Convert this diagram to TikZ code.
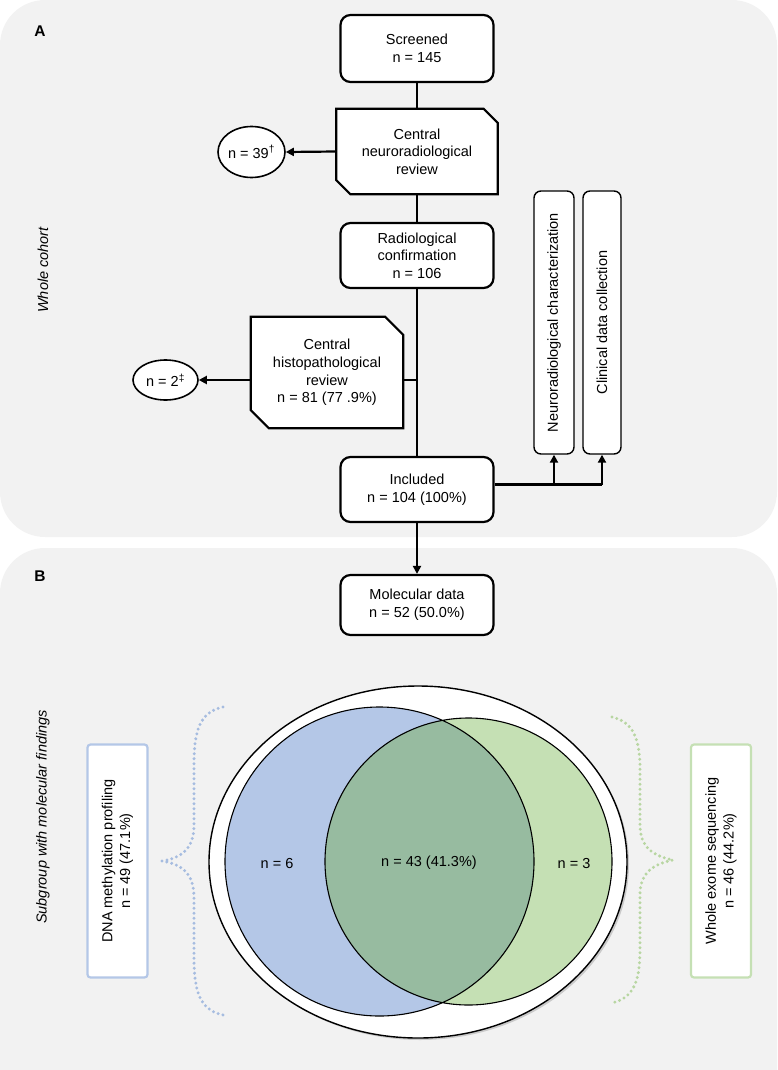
\documentclass[tikz,border=0pt]{standalone}
\usepackage{fontspec}
\setmainfont{Liberation Sans}
\usetikzlibrary{arrows.meta,backgrounds,shadows,shapes.geometric}
\definecolor{panelgray}{RGB}{242,242,242}
\definecolor{vennblue}{RGB}{180,199,231}
\definecolor{venngreen}{RGB}{197,224,180}
\definecolor{vennboth}{RGB}{151,187,160}
\definecolor{braceblue}{RGB}{166,188,224}
\definecolor{bracegreen}{RGB}{184,214,162}
\newcommand\bodysize{\fontsize{14.5}{17.6}\selectfont}
\tikzset{
  box/.style={draw,fill=white,line width=2.2pt,rounded corners=10pt,minimum width=153pt,inner sep=0pt,align=center},
  cutbox/.style={minimum width=#1,inner sep=0pt,align=center},
  cutline/.style={draw,fill=white,line width=2.2pt},
  oval/.style={draw,fill=white,ellipse,line width=1.6pt,inner sep=0pt},
  tallbox/.style={draw,fill=white,rotate=90,line width=1.4pt,rounded corners=7pt,minimum width=263pt,inner sep=0pt},
  sidebox/.style={draw=#1,fill=white,rotate=90,line width=2.2pt,rounded corners=3pt,minimum width=233pt,minimum height=60pt,inner sep=0pt,align=center},
  dotbrace/.style={#1,line width=3.3pt,line cap=round,dash pattern=on 0pt off 5pt},
  flow/.style={line width=2.2pt},
}
\begin{document}
\begin{tikzpicture}[x=1pt,y=-1pt,font=\bodysize,>={Triangle[length=8pt,width=8pt]}]
\useasboundingbox (0,0) rectangle (777,1070);
% panel A
\node[font=\fontsize{15.5}{18}\selectfont\bfseries] (labA) at (40,31) {A};
\node[rotate=90,font=\bodysize\itshape] (whole) at (43,270) {Whole cohort};
\node[box,minimum height=67pt] (screen) at (417,48.5) {Screened\\n = 145};
\node[cutbox=161pt,minimum height=85pt] (neuro) at (417,151.5) {Central\\neuroradiological\\review};
\node[oval,minimum width=67pt,minimum height=51pt] (e39) at (251.5,152) {n = 39\textsuperscript{†}};
\node[box,minimum height=65pt] (radio) at (417,255.5) {Radiological\\confirmation\\n = 106};
\node[cutbox=152pt,minimum height=111pt] (histo) at (327,372.5) {Central\\histopathological\\review\\n = 81 (77 .9\%)};
\node[oval,minimum width=65pt,minimum height=40pt] (e2) at (165.5,380) {n = 2\textsuperscript{‡}};
\node[box,minimum height=65pt] (incl) at (417,489.5) {Included\\n = 104 (100\%)};
\node[tallbox,minimum height=40pt] (neurchar) at (554,322.5) {Neuroradiological characterization};
\node[tallbox,minimum height=38pt] (clin) at (602,322.5) {Clinical data collection};
\coordinate (junc) at ([yshift=5pt]incl.east);
\draw[flow] (screen.south) -- (neuro.north);
\draw[flow] (neuro.south) -- (radio.north);
\draw[flow] (radio.south) -- (incl.north);
\draw[flow] (histo.east |- e2) -- (radio.south |- e2);
\draw[flow,->] (neuro.west) -- (e39.east);
\draw[flow,->] (histo.west |- e2) -- (e2.east);
\draw[flow] (junc) -- (clin.west |- junc);
\draw[flow,->] (neurchar.west |- junc) -- (neurchar.west);
\draw[flow,->] (clin.west |- junc) -- (clin.west);
% panel B
\node[font=\fontsize{15.5}{18}\selectfont\bfseries] (labB) at (40,576) {B};
\node[rotate=90,font=\bodysize\itshape] (subgr) at (43,817) {Subgroup with molecular findings};
\node[box,minimum height=60pt] (mol) at (417,605) {Molecular data\\n = 52 (50.0\%)};
\draw[flow,->] (incl.south) -- (mol.north);
\draw[fill=white,line width=1.4pt,drop shadow={shadow xshift=2pt,shadow yshift=-2pt,opacity=.35}] (418,862) ellipse [x radius=209,y radius=176];
\fill[vennblue] (379.5,861.5) circle [radius=154.5];
\fill[venngreen] (468.5,861.5) circle [radius=143.5];
\begin{scope}
  \clip (379.5,861.5) circle [radius=154.5];
  \fill[vennboth] (468.5,861.5) circle [radius=143.5];
\end{scope}
\draw[line width=1.1pt] (379.5,861.5) circle [radius=154.5] (468.5,861.5) circle [radius=143.5];
\node (n6) at (277,863) {n = 6};
\node (n43) at (429,863) {n = 43 (41.3\%)};
\node (n3) at (574,863) {n = 3};
\node[sidebox=vennblue] (dna) at (117.5,861) {DNA methylation profiling\\n = 49 (47.1\%)};
\node[sidebox=venngreen] (wes) at (721,861) {Whole exome sequencing\\n = 46 (44.2\%)};
\draw[dotbrace=braceblue] (223,707) .. controls (200,712) and (194,730) .. (194,765) -- (194,825)
  .. controls (194,850) and (180,858) .. (162,861) .. controls (180,864) and (194,872) .. (194,897)
  -- (194,957) .. controls (194,992) and (200,1010) .. (223,1015);
\draw[dotbrace=bracegreen] (612,717) .. controls (633,722) and (640,738) .. (640,770) -- (640,825)
  .. controls (640,848) and (654,856) .. (673,860) .. controls (654,864) and (640,872) .. (640,895)
  -- (640,950) .. controls (640,982) and (633,998) .. (612,1003);
% panels and cut boxes behind
\begin{scope}[on background layer]
  \fill[panelgray,rounded corners=45pt] (0,0) rectangle (777,537);
  \fill[panelgray,rounded corners=45pt] (0,548) rectangle (777,1130);
  \draw[cutline] (neuro.north west) -- ([xshift=-14pt]neuro.north east) -- ([yshift=-14pt]neuro.north east)
    -- (neuro.south east) -- ([xshift=14pt]neuro.south west) -- ([yshift=14pt]neuro.south west) -- cycle;
  \draw[cutline] (histo.north west) -- ([xshift=-18pt]histo.north east) -- ([yshift=-18pt]histo.north east)
    -- (histo.south east) -- ([xshift=18pt]histo.south west) -- ([yshift=18pt]histo.south west) -- cycle;
\end{scope}
\end{tikzpicture}
\end{document}
